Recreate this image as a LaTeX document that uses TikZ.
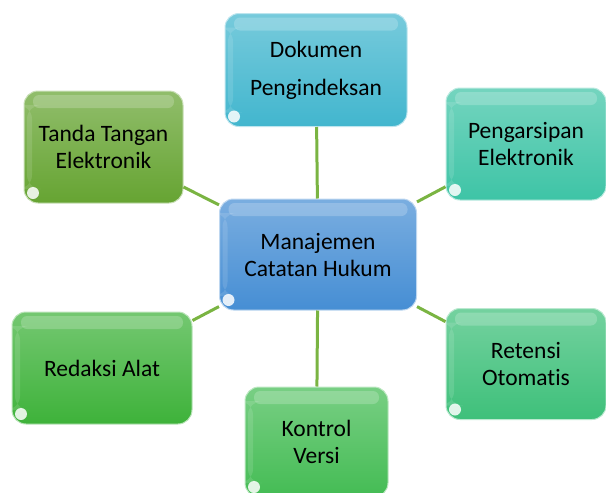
\documentclass[tikz,border=0pt]{standalone}
\usepackage{fontspec}
\setmainfont{Carlito}[Ligatures=CommonOff]
\usepackage{tikz}
\usetikzlibrary{shapes.geometric, calc}
\definecolor{coreblue}{RGB}{70, 142, 212}
\definecolor{dokcyan}{RGB}{66, 182, 206}
\definecolor{tandagreen}{RGB}{102, 164, 50}
\definecolor{arsipteal}{RGB}{62, 196, 166}
\definecolor{retensigreen}{RGB}{62, 192, 122}
\definecolor{redaksigreen}{RGB}{62, 178, 58}
\definecolor{kontrolgreen}{RGB}{68, 188, 84}
\definecolor{linkgreen}{RGB}{122, 180, 66}

\tikzset{
    glossbox/.style={rounded corners=14pt, draw=#1!35!white, line width=1pt,
        top color=#1!72!white, bottom color=#1, text=black, align=center,
        font=\fontsize{23.5}{27}\selectfont, inner sep=0pt,
        path picture={
            \fill[white, opacity=0.2, rounded corners=6pt]
                ([shift={(9pt,-4pt)}]path picture bounding box.north west) rectangle
                ([shift={(-9pt,-17pt)}]path picture bounding box.north east);
            \fill[white, opacity=0.12]
                ([shift={(3pt,-14pt)}]path picture bounding box.north west) rectangle
                ([shift={(8pt,14pt)}]path picture bounding box.south west);
            \fill[white, opacity=0.85]
                ([shift={(9pt,10pt)}]path picture bounding box.south west) circle (6pt);
        }},
    link/.style={line width=3pt, linkgreen}
}

\begin{document}
\begin{tikzpicture}[x=1pt, y=-1pt]
    \useasboundingbox (0,0) rectangle (606,493);

    % kotak-kotak di sekeliling pusat
    \node[glossbox=dokcyan, minimum width=182pt, minimum height=113pt,
        font=\fontsize{23.5}{38}\selectfont] (dokumen) at (316,70) {Dokumen\\Pengindeksan};
    \node[glossbox=tandagreen, minimum width=159pt, minimum height=112pt] (tanda) at (103.5,147) {Tanda Tangan\\Elektronik};
    \node[glossbox=arsipteal, minimum width=160pt, minimum height=112pt] (arsip) at (526,144) {Pengarsipan\\Elektronik};
    \node[glossbox=redaksigreen, minimum width=180pt, minimum height=112pt] (redaksi) at (102,368) {Redaksi Alat};
    \node[glossbox=retensigreen, minimum width=160pt, minimum height=111pt] (retensi) at (526,364) {Retensi\\Otomatis};
    \node[glossbox=kontrolgreen, minimum width=143pt, minimum height=110pt] (kontrol) at (316.5,442) {Kontrol\\Versi};

    % kotak pusat
    \node[glossbox=coreblue, minimum width=197pt, minimum height=111pt] (core) at (318,254.5) {Manajemen\\Catatan Hukum};

    % garis penghubung
    \foreach \b in {dokumen, tanda, arsip, redaksi, retensi, kontrol}
        \draw[link] (core) -- (\b);
\end{tikzpicture}
\end{document}
